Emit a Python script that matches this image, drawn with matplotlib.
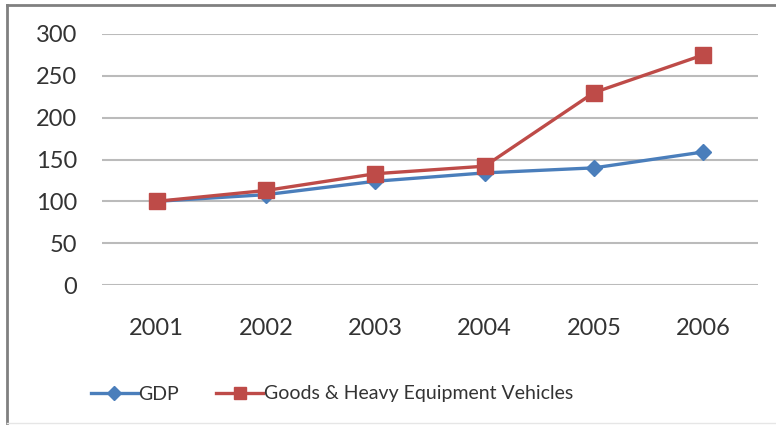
#!/usr/bin/env python

import matplotlib.pyplot as plt
from matplotlib.lines import Line2D

years = ["2001", "2002", "2003", "2004", "2005", "2006"]
gdp = [100, 108, 124, 134, 140, 159]
vehicles = [100, 113, 133, 142, 230, 275]
yticks = [0, 50, 100, 150, 200, 250, 300]


def main():
    plt.rcParams["font.family"] = ["Lato", "DejaVu Sans"]
    fig = plt.figure(figsize=(7.76, 4.32), dpi=100)
    W, H = 776.0, 432.0
    ax = fig.add_axes([102/W, 1-285/H, (758-102)/W, (285-34)/H])

    x = list(range(len(years)))
    ax.plot(x, gdp, color="#4A7EBB", lw=2.4, marker="D", ms=8.5,
            mfc="#4A7EBB", mec="#4A7EBB", label="GDP", zorder=3)
    ax.plot(x, vehicles, color="#BE4B48", lw=2.4, marker="s", ms=11,
            mfc="#BE4B48", mec="#BE4B48",
            label="Goods & Heavy Equipment Vehicles", zorder=4)

    ax.set_xlim(-0.5, len(years)-0.5)
    ax.set_ylim(0, 300)
    ax.set_yticks(yticks)
    ax.set_xticks(x)
    ax.set_xticklabels(years)
    ax.tick_params(axis="both", length=0, labelsize=17, colors="#333333")
    ax.tick_params(axis="y", pad=18)
    ax.tick_params(axis="x", pad=24)
    ax.yaxis.grid(True, color="#BBBBBB", lw=1.5)
    ax.set_axisbelow(True)
    for s in ax.spines.values():
        s.set_visible(False)

    fig.legend(loc="center", bbox_to_anchor=(332/W, 1-394/H), ncol=2,
               frameon=False, fontsize=14, handlelength=2.4, markerscale=0.8,
               handletextpad=0.05, columnspacing=1.9, labelcolor="#333333")

    # outer frame
    fig.add_artist(Line2D([7/W, 7/W], [1-423/H, 1-5/H], transform=fig.transFigure,
                          color="#808080", lw=2))
    fig.add_artist(Line2D([7/W, 1], [1-5/H, 1-5/H], transform=fig.transFigure,
                          color="#808080", lw=2))
    fig.add_artist(Line2D([7/W, 1], [1-423/H, 1-423/H], transform=fig.transFigure,
                          color="#E6E6E6", lw=1))

    fig.savefig("out.png", dpi=100)
    plt.close()


if __name__ == "__main__":
    main()
